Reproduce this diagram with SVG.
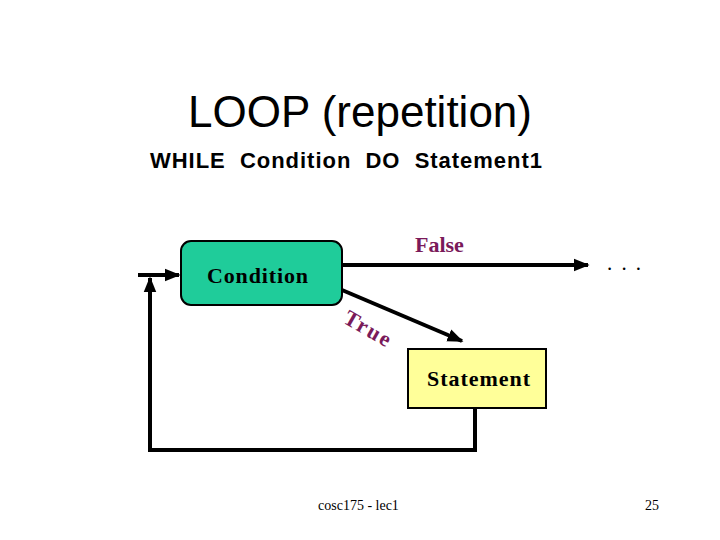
<svg xmlns="http://www.w3.org/2000/svg" width="720" height="540" viewBox="0 0 720 540">
<style>
.ln{stroke:#000;stroke-width:4;fill:none}
.lbl{font-family:"Liberation Serif",serif;font-weight:bold;fill:#7a1a5a;font-size:22px}
.nt{font-family:"Liberation Serif",serif;font-weight:bold;font-size:22px;fill:#000}
</style>
<defs>
<marker id="ah" viewBox="0 0 10 10" refX="9" refY="5" markerWidth="4" markerHeight="4" orient="auto" markerUnits="strokeWidth">
<path d="M0,1 L10,5 L0,9 Z" fill="#000"/>
</marker>
</defs>
<rect width="720" height="540" fill="#fff"/>
<text x="360" y="127" text-anchor="middle" font-family="Liberation Sans,sans-serif" font-size="44">LOOP (repetition)</text>
<text x="150" y="168" font-family="Liberation Sans,sans-serif" font-weight="bold" font-size="22" textLength="392" lengthAdjust="spacing" xml:space="preserve">WHILE  Condition  DO  Statement1</text>
<g id="connectors">
<line class="ln" x1="138" y1="275" x2="179" y2="275" stroke-width="3" marker-end="url(#ah)"/>
<polyline class="ln" points="475,408 475,450 150,450 150,278" marker-end="url(#ah)"/>
<line class="ln" x1="342" y1="265" x2="588" y2="265" marker-end="url(#ah)"/>
<line class="ln" x1="342" y1="290" x2="462" y2="341" marker-end="url(#ah)"/>
<text class="lbl" font-size="24" letter-spacing="2" transform="translate(342,322) rotate(30)">True</text>
<text class="lbl" x="415" y="252">False</text>
<text x="607" y="270" font-family="Liberation Serif,serif" font-size="21" textLength="34" lengthAdjust="spacing">. . .</text>
</g>
<g id="condition">
<rect x="181" y="241" width="161" height="64" rx="10" fill="#1fcc9a" stroke="#000" stroke-width="2"/>
<text class="nt" x="207" y="283" textLength="101" lengthAdjust="spacing">Condition</text>
</g>
<g id="statement">
<rect x="408" y="349" width="138" height="59" fill="#ffff99" stroke="#000" stroke-width="2"/>
<text class="nt" x="427" y="386" textLength="103" lengthAdjust="spacing">Statement</text>
</g>
<text x="318" y="510" font-family="Liberation Serif,serif" font-size="14">cosc175 - lec1</text>
<text x="645" y="510" font-family="Liberation Serif,serif" font-size="14">25</text>
</svg>
